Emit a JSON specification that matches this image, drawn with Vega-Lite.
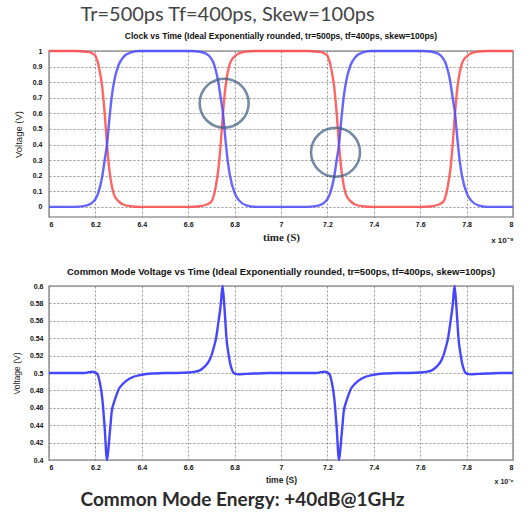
{
  "$schema": "https://vega.github.io/schema/vega-lite/v6.json",
  "padding": {"left": 11, "top": 4, "right": 2, "bottom": 4},
  "background": "white",
  "title": {"text": "Tr=500ps Tf=400ps, Skew=100ps", "anchor": "start", "frame": "bounds", "dx": 69, "font": "Lato", "fontSize": 20, "fontWeight": "normal", "color": "#444444", "offset": 6},
  "datasets": {
    "clock": [
      {"t": 6.00, "s": "a", "v": 1}, {"t": 6.12, "s": "a", "v": 1}, {"t": 6.16, "s": "a", "v": 0.995}, {"t": 6.18, "s": "a", "v": 0.99}, {"t": 6.20, "s": "a", "v": 0.97}, {"t": 6.21, "s": "a", "v": 0.93}, {"t": 6.22, "s": "a", "v": 0.86}, {"t": 6.23, "s": "a", "v": 0.76}, {"t": 6.24, "s": "a", "v": 0.6}, {"t": 6.25, "s": "a", "v": 0.4}, {"t": 6.26, "s": "a", "v": 0.24}, {"t": 6.27, "s": "a", "v": 0.14}, {"t": 6.28, "s": "a", "v": 0.08}, {"t": 6.30, "s": "a", "v": 0.035}, {"t": 6.32, "s": "a", "v": 0.015}, {"t": 6.35, "s": "a", "v": 0.004}, {"t": 6.40, "s": "a", "v": 0},
      {"t": 6.60, "s": "a", "v": 0}, {"t": 6.65, "s": "a", "v": 0.004}, {"t": 6.68, "s": "a", "v": 0.015}, {"t": 6.70, "s": "a", "v": 0.035}, {"t": 6.71, "s": "a", "v": 0.07}, {"t": 6.72, "s": "a", "v": 0.14}, {"t": 6.73, "s": "a", "v": 0.24}, {"t": 6.74, "s": "a", "v": 0.4}, {"t": 6.75, "s": "a", "v": 0.6}, {"t": 6.76, "s": "a", "v": 0.76}, {"t": 6.77, "s": "a", "v": 0.86}, {"t": 6.78, "s": "a", "v": 0.92}, {"t": 6.80, "s": "a", "v": 0.965}, {"t": 6.82, "s": "a", "v": 0.985}, {"t": 6.85, "s": "a", "v": 0.996}, {"t": 6.89, "s": "a", "v": 1},
      {"t": 7.12, "s": "a", "v": 1}, {"t": 7.16, "s": "a", "v": 0.995}, {"t": 7.18, "s": "a", "v": 0.99}, {"t": 7.20, "s": "a", "v": 0.97}, {"t": 7.21, "s": "a", "v": 0.93}, {"t": 7.22, "s": "a", "v": 0.86}, {"t": 7.23, "s": "a", "v": 0.76}, {"t": 7.24, "s": "a", "v": 0.6}, {"t": 7.25, "s": "a", "v": 0.4}, {"t": 7.26, "s": "a", "v": 0.24}, {"t": 7.27, "s": "a", "v": 0.14}, {"t": 7.28, "s": "a", "v": 0.08}, {"t": 7.30, "s": "a", "v": 0.035}, {"t": 7.32, "s": "a", "v": 0.015}, {"t": 7.35, "s": "a", "v": 0.004}, {"t": 7.40, "s": "a", "v": 0},
      {"t": 7.60, "s": "a", "v": 0}, {"t": 7.65, "s": "a", "v": 0.004}, {"t": 7.68, "s": "a", "v": 0.015}, {"t": 7.70, "s": "a", "v": 0.035}, {"t": 7.71, "s": "a", "v": 0.07}, {"t": 7.72, "s": "a", "v": 0.14}, {"t": 7.73, "s": "a", "v": 0.24}, {"t": 7.74, "s": "a", "v": 0.4}, {"t": 7.75, "s": "a", "v": 0.6}, {"t": 7.76, "s": "a", "v": 0.76}, {"t": 7.77, "s": "a", "v": 0.86}, {"t": 7.78, "s": "a", "v": 0.92}, {"t": 7.80, "s": "a", "v": 0.965}, {"t": 7.82, "s": "a", "v": 0.985}, {"t": 7.85, "s": "a", "v": 0.996}, {"t": 7.89, "s": "a", "v": 1}, {"t": 8.00, "s": "a", "v": 1},
      {"t": 6.00, "s": "b", "v": 0}, {"t": 6.11, "s": "b", "v": 0}, {"t": 6.15, "s": "b", "v": 0.005}, {"t": 6.18, "s": "b", "v": 0.02}, {"t": 6.20, "s": "b", "v": 0.05}, {"t": 6.21, "s": "b", "v": 0.08}, {"t": 6.22, "s": "b", "v": 0.13}, {"t": 6.23, "s": "b", "v": 0.2}, {"t": 6.24, "s": "b", "v": 0.3}, {"t": 6.25, "s": "b", "v": 0.4}, {"t": 6.26, "s": "b", "v": 0.56}, {"t": 6.27, "s": "b", "v": 0.7}, {"t": 6.28, "s": "b", "v": 0.8}, {"t": 6.30, "s": "b", "v": 0.91}, {"t": 6.32, "s": "b", "v": 0.96}, {"t": 6.35, "s": "b", "v": 0.99}, {"t": 6.39, "s": "b", "v": 1},
      {"t": 6.61, "s": "b", "v": 1}, {"t": 6.65, "s": "b", "v": 0.995}, {"t": 6.68, "s": "b", "v": 0.98}, {"t": 6.70, "s": "b", "v": 0.95}, {"t": 6.71, "s": "b", "v": 0.92}, {"t": 6.72, "s": "b", "v": 0.87}, {"t": 6.73, "s": "b", "v": 0.8}, {"t": 6.74, "s": "b", "v": 0.7}, {"t": 6.75, "s": "b", "v": 0.6}, {"t": 6.76, "s": "b", "v": 0.44}, {"t": 6.77, "s": "b", "v": 0.3}, {"t": 6.78, "s": "b", "v": 0.2}, {"t": 6.80, "s": "b", "v": 0.09}, {"t": 6.82, "s": "b", "v": 0.04}, {"t": 6.85, "s": "b", "v": 0.01}, {"t": 6.89, "s": "b", "v": 0},
      {"t": 7.11, "s": "b", "v": 0}, {"t": 7.15, "s": "b", "v": 0.005}, {"t": 7.18, "s": "b", "v": 0.02}, {"t": 7.20, "s": "b", "v": 0.05}, {"t": 7.21, "s": "b", "v": 0.08}, {"t": 7.22, "s": "b", "v": 0.13}, {"t": 7.23, "s": "b", "v": 0.2}, {"t": 7.24, "s": "b", "v": 0.3}, {"t": 7.25, "s": "b", "v": 0.4}, {"t": 7.26, "s": "b", "v": 0.56}, {"t": 7.27, "s": "b", "v": 0.7}, {"t": 7.28, "s": "b", "v": 0.8}, {"t": 7.30, "s": "b", "v": 0.91}, {"t": 7.32, "s": "b", "v": 0.96}, {"t": 7.35, "s": "b", "v": 0.99}, {"t": 7.39, "s": "b", "v": 1},
      {"t": 7.61, "s": "b", "v": 1}, {"t": 7.65, "s": "b", "v": 0.995}, {"t": 7.68, "s": "b", "v": 0.98}, {"t": 7.70, "s": "b", "v": 0.95}, {"t": 7.71, "s": "b", "v": 0.92}, {"t": 7.72, "s": "b", "v": 0.87}, {"t": 7.73, "s": "b", "v": 0.8}, {"t": 7.74, "s": "b", "v": 0.7}, {"t": 7.75, "s": "b", "v": 0.6}, {"t": 7.76, "s": "b", "v": 0.44}, {"t": 7.77, "s": "b", "v": 0.3}, {"t": 7.78, "s": "b", "v": 0.2}, {"t": 7.80, "s": "b", "v": 0.09}, {"t": 7.82, "s": "b", "v": 0.04}, {"t": 7.85, "s": "b", "v": 0.01}, {"t": 7.89, "s": "b", "v": 0}, {"t": 8.00, "s": "b", "v": 0}
    ],
    "cm": [
      {"t": 6.00, "v": 0.5}, {"t": 6.15, "v": 0.5}, {"t": 6.17, "v": 0.5008}, {"t": 6.185, "v": 0.5015}, {"t": 6.20, "v": 0.5005}, {"t": 6.21, "v": 0.498}, {"t": 6.22, "v": 0.488}, {"t": 6.23, "v": 0.47}, {"t": 6.24, "v": 0.437}, {"t": 6.25, "v": 0.4}, {"t": 6.255, "v": 0.41}, {"t": 6.26, "v": 0.425}, {"t": 6.265, "v": 0.44}, {"t": 6.27, "v": 0.455}, {"t": 6.28, "v": 0.466}, {"t": 6.29, "v": 0.474}, {"t": 6.30, "v": 0.481}, {"t": 6.32, "v": 0.488}, {"t": 6.35, "v": 0.494}, {"t": 6.40, "v": 0.498}, {"t": 6.45, "v": 0.4995}, {"t": 6.50, "v": 0.5},
      {"t": 6.55, "v": 0.5}, {"t": 6.60, "v": 0.5005}, {"t": 6.63, "v": 0.5015}, {"t": 6.65, "v": 0.503}, {"t": 6.67, "v": 0.507}, {"t": 6.68, "v": 0.51}, {"t": 6.69, "v": 0.514}, {"t": 6.70, "v": 0.52}, {"t": 6.71, "v": 0.529}, {"t": 6.72, "v": 0.54}, {"t": 6.73, "v": 0.558}, {"t": 6.74, "v": 0.578}, {"t": 6.748, "v": 0.6}, {"t": 6.755, "v": 0.58}, {"t": 6.76, "v": 0.56}, {"t": 6.765, "v": 0.54}, {"t": 6.775, "v": 0.52}, {"t": 6.78, "v": 0.512}, {"t": 6.787, "v": 0.505}, {"t": 6.795, "v": 0.5}, {"t": 6.805, "v": 0.499}, {"t": 6.815, "v": 0.4985}, {"t": 6.85, "v": 0.499}, {"t": 6.90, "v": 0.4995}, {"t": 6.95, "v": 0.5},
      {"t": 7.15, "v": 0.5}, {"t": 7.17, "v": 0.5008}, {"t": 7.185, "v": 0.5015}, {"t": 7.20, "v": 0.5005}, {"t": 7.21, "v": 0.498}, {"t": 7.22, "v": 0.488}, {"t": 7.23, "v": 0.47}, {"t": 7.24, "v": 0.437}, {"t": 7.25, "v": 0.4}, {"t": 7.255, "v": 0.41}, {"t": 7.26, "v": 0.425}, {"t": 7.265, "v": 0.44}, {"t": 7.27, "v": 0.455}, {"t": 7.28, "v": 0.466}, {"t": 7.29, "v": 0.474}, {"t": 7.30, "v": 0.481}, {"t": 7.32, "v": 0.488}, {"t": 7.35, "v": 0.494}, {"t": 7.40, "v": 0.498}, {"t": 7.45, "v": 0.4995}, {"t": 7.50, "v": 0.5},
      {"t": 7.55, "v": 0.5}, {"t": 7.60, "v": 0.5005}, {"t": 7.63, "v": 0.5015}, {"t": 7.65, "v": 0.503}, {"t": 7.67, "v": 0.507}, {"t": 7.68, "v": 0.51}, {"t": 7.69, "v": 0.514}, {"t": 7.70, "v": 0.52}, {"t": 7.71, "v": 0.529}, {"t": 7.72, "v": 0.54}, {"t": 7.73, "v": 0.558}, {"t": 7.74, "v": 0.578}, {"t": 7.748, "v": 0.6}, {"t": 7.755, "v": 0.58}, {"t": 7.76, "v": 0.56}, {"t": 7.765, "v": 0.54}, {"t": 7.775, "v": 0.52}, {"t": 7.78, "v": 0.512}, {"t": 7.787, "v": 0.505}, {"t": 7.795, "v": 0.5}, {"t": 7.805, "v": 0.499}, {"t": 7.815, "v": 0.4985}, {"t": 7.85, "v": 0.499}, {"t": 7.90, "v": 0.4995}, {"t": 7.95, "v": 0.5}, {"t": 8.00, "v": 0.5}
    ],
    "circles": [
      {"t": 6.755, "v": 0.665},
      {"t": 7.235, "v": 0.35}
    ]
  },
  "config": {
    "view": {"stroke": "#9a9a9a", "strokeWidth": 1.6},
    "axis": {"labelFont": "Liberation Sans", "labelFontWeight": "bold", "labelFontSize": 7, "labelColor": "#111", "labelOverlap": false, "labelBound": false, "ticks": false, "domain": false, "gridDash": [2, 2], "gridColor": "#8a8a8a", "gridWidth": 0.9, "titleColor": "#222"},
    "title": {"font": "Liberation Sans", "fontWeight": "bold", "color": "#111"}
  },
  "spacing": 20,
  "vconcat": [
    {
      "width": 464,
      "height": 166,
      "title": {"text": "Clock vs Time (Ideal Exponentially rounded, tr=500ps, tf=400ps, skew=100ps)", "fontSize": 8.5, "anchor": "middle", "offset": 6},
      "encoding": {
        "y": {"field": "v", "type": "quantitative", "scale": {"domain": [-0.065, 1], "nice": false, "zero": false},
              "axis": {"values": [0, 0.1, 0.2, 0.3, 0.4, 0.5, 0.6, 0.7, 0.8, 0.9, 1], "format": "~g", "labelPadding": 7, "title": "Voltage (V)", "titleFont": "Liberation Sans", "titleFontSize": 9.5, "titleFontWeight": "normal", "titlePadding": 9}}
      },
      "layer": [
        {
          "data": {"name": "clock"},
          "mark": {"type": "line", "strokeWidth": 2.4, "interpolate": "monotone", "opacity": 0.85},
          "encoding": {
            "x": {"field": "t", "type": "quantitative", "scale": {"domain": [6, 8], "nice": false, "zero": false},
                  "axis": {"values": [6, 6.2, 6.4, 6.6, 6.8, 7, 7.2, 7.4, 7.6, 7.8, 8], "format": ".1~f", "labelPadding": 3, "title": "time (S)", "titleFont": "Liberation Serif", "titleFontSize": 11, "titleFontWeight": "bold", "titlePadding": 4}},
            "color": {"field": "s", "type": "nominal", "scale": {"domain": ["a", "b"], "range": ["#ff4a4a", "#4a4aff"]}, "legend": null}
          }
        },
        {
          "data": {"name": "circles"},
          "mark": {"type": "point", "shape": "circle", "filled": false, "size": 2400, "stroke": "#3b5b80", "strokeWidth": 2.6},
          "encoding": {
            "x": {"field": "t", "type": "quantitative", "axis": {"orient": "bottom", "labels": false, "grid": false, "title": "x 10⁻⁹", "titleAnchor": "end", "titleFont": "Liberation Sans", "titleFontSize": 8, "titleFontWeight": "bold", "titlePadding": 19}}
          }
        }
      ],
      "resolve": {"axis": {"x": "independent"}}
    },
    {
      "title": {"text": "Common Mode Energy: +40dB@1GHz", "orient": "bottom", "anchor": "start", "frame": "bounds", "dx": 69, "font": "Lato", "fontSize": 19, "fontWeight": "bold", "color": "#2a2a2a", "offset": 6},
      "vconcat": [
        {
          "width": 464,
          "height": 174,
          "title": {"text": "Common Mode Voltage vs Time (Ideal Exponentially rounded, tr=500ps, tf=400ps, skew=100ps)", "fontSize": 9.5, "anchor": "middle", "offset": 5},
          "data": {"name": "cm"},
          "encoding": {
            "y": {"field": "v", "type": "quantitative", "scale": {"domain": [0.4, 0.6], "nice": false, "zero": false},
                  "axis": {"values": [0.4, 0.42, 0.44, 0.46, 0.48, 0.5, 0.52, 0.54, 0.56, 0.58, 0.6], "format": "~g", "labelPadding": 6, "title": "Voltage (V)", "titleFont": "Liberation Sans", "titleFontSize": 8.5, "titleFontWeight": "normal", "titlePadding": 8}}
          },
          "layer": [
            {
              "mark": {"type": "line", "strokeWidth": 2.4, "color": "#4646ff", "interpolate": "monotone"},
              "encoding": {
                "x": {"field": "t", "type": "quantitative", "scale": {"domain": [6, 8], "nice": false, "zero": false},
                      "axis": {"values": [6, 6.2, 6.4, 6.6, 6.8, 7, 7.2, 7.4, 7.6, 7.8, 8], "format": ".1~f", "labelPadding": 3, "title": "time (S)", "titleFont": "Liberation Sans", "titleFontSize": 8.5, "titleFontWeight": "bold", "titlePadding": 5}}
              }
            },
            {
              "mark": {"type": "line", "opacity": 0},
              "encoding": {
                "x": {"field": "t", "type": "quantitative", "axis": {"orient": "bottom", "labels": false, "grid": false, "title": "x 10⁻⁹", "titleAnchor": "end", "titleFont": "Liberation Sans", "titleFontSize": 7, "titleFontWeight": "bold", "titlePadding": 17}}
              }
            }
          ],
          "resolve": {"axis": {"x": "independent"}}
        }
      ]
    }
  ]
}
